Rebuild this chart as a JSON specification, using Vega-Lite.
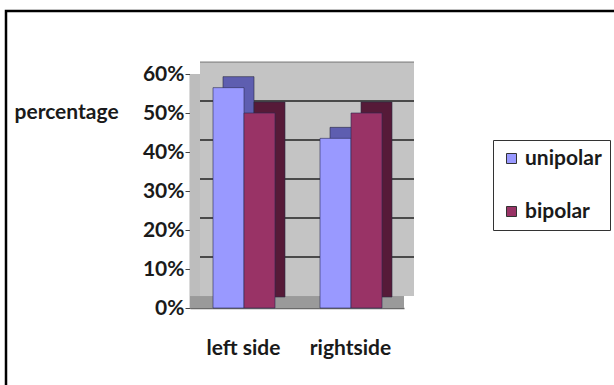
{
  "$schema": "https://vega.github.io/schema/vega-lite/v6.json",
  "width": 608,
  "height": 374,
  "autosize": {"type": "none"},
  "padding": {"left": 6, "top": 11, "right": 0, "bottom": 0},
  "background": "white",
  "config": {
    "view": {"stroke": "#000000", "strokeWidth": 2.5, "strokeDash": [608, 982, 374, 20], "fill": "white"},
    "font": "Lato"
  },
  "data": {
    "values": [
      {"side": "left side", "type": "unipolar", "pct": 0.565},
      {"side": "left side", "type": "bipolar", "pct": 0.5},
      {"side": "rightside", "type": "unipolar", "pct": 0.435},
      {"side": "rightside", "type": "bipolar", "pct": 0.5}
    ]
  },
  "resolve": {"scale": {"x": "independent", "y": "independent", "xOffset": "independent", "color": "independent"}},
  "layer": [
    {
      "mark": {"type": "bar", "color": "#bdbdbd"},
      "encoding": {
        "x": {"field": "side", "type": "nominal", "scale": {"domain": ["left side", "rightside"], "range": [184, 398], "paddingInner": 0, "paddingOuter": 0}, "axis": null},
        "y": {"datum": 0.6, "type": "quantitative", "scale": {"domain": [0, 0.6], "range": [297, 63]}, "axis": null},
        "y2": {"datum": 0}
      }
    },
    {
      "mark": {"type": "bar", "color": "#c4c4c4"},
      "encoding": {
        "x": {"field": "side", "type": "nominal", "scale": {"domain": ["left side", "rightside"], "range": [194, 408], "paddingInner": 0, "paddingOuter": 0}, "axis": null},
        "y": {"datum": 0.6, "type": "quantitative", "scale": {"domain": [0, 0.6], "range": [285, 51]}, "axis": null},
        "y2": {"datum": 0}
      }
    },
    {
      "data": {"values": [{"g": 0.1}, {"g": 0.2}, {"g": 0.3}, {"g": 0.4}, {"g": 0.5}, {"g": 0.6}]},
      "mark": {"type": "rule", "color": "#4a4a4a", "strokeWidth": 2},
      "encoding": {
        "x": {"datum": "left side", "type": "nominal", "bandPosition": 0, "scale": {"domain": ["left side", "rightside"], "range": [194, 408], "paddingInner": 0, "paddingOuter": 0}, "axis": null},
        "x2": {"datum": "rightside", "bandPosition": 1},
        "y": {"field": "g", "type": "quantitative", "scale": {"domain": [0, 0.6], "range": [285, 51]}, "axis": null},
        "opacity": {"condition": {"test": "datum.g > 0.55", "value": 0.35}, "value": 1}
      }
    },
    {
      "mark": {"type": "bar", "color": "#9a9a9a"},
      "encoding": {
        "x": {"field": "side", "type": "nominal", "scale": {"domain": ["left side", "rightside"], "range": [184, 398], "paddingInner": 0, "paddingOuter": 0}, "axis": null},
        "y": {"datum": 0.03, "type": "quantitative", "scale": {"domain": [0, 0.6], "range": [297, 63]}, "axis": null},
        "y2": {"datum": 0}
      }
    },
    {
      "mark": {"type": "bar", "stroke": "#2a2a40", "strokeWidth": 0.6},
      "encoding": {
        "x": {"field": "side", "type": "nominal", "scale": {"domain": ["left side", "rightside"], "range": [184, 398], "paddingInner": 0, "paddingOuter": 0}, "axis": null},
        "xOffset": {"field": "type", "type": "nominal", "scale": {"domain": ["unipolar", "bipolar"], "range": [33, 95], "paddingInner": 0, "paddingOuter": 0}},
        "y": {"field": "pct", "type": "quantitative", "scale": {"domain": [0, 0.6], "range": [286, 52]}, "axis": null},
        "y2": {"datum": 0},
        "color": {"field": "type", "type": "nominal", "scale": {"domain": ["unipolar", "bipolar"], "range": ["#5e5eb0", "#561a38"]}, "legend": null}
      }
    },
    {
      "mark": {"type": "bar", "stroke": "#2a2a50", "strokeWidth": 0.6},
      "encoding": {
        "x": {
          "field": "side", "type": "nominal",
          "scale": {"domain": ["left side", "rightside"], "range": [184, 398], "paddingInner": 0, "paddingOuter": 0},
          "axis": {"orient": "bottom", "offset": -77, "ticks": false, "domain": true, "domainColor": "#6a6a6a", "domainWidth": 1.5, "labelAngle": 0, "labelPadding": 29, "labelFont": "Lato", "labelFontSize": 21, "labelFontWeight": "bold", "labelColor": "#1a1a1a", "title": null}
        },
        "xOffset": {"field": "type", "type": "nominal", "scale": {"domain": ["unipolar", "bipolar"], "range": [23, 85], "paddingInner": 0, "paddingOuter": 0}},
        "y": {
          "field": "pct", "type": "quantitative",
          "scale": {"domain": [0, 0.6], "range": [297, 63]},
          "axis": {"values": [0, 0.1, 0.2, 0.3, 0.4, 0.5, 0.6], "format": ".0%", "offset": -184, "grid": false, "domainColor": "#6a6a6a", "domainWidth": 1.5, "tickColor": "#444444", "tickSize": 5, "labelPadding": 1, "labelFont": "Lato", "labelFontSize": 21, "labelFontWeight": "bold", "labelColor": "#1a1a1a", "title": "percentage", "titleAngle": 0, "titleX": -176, "titleY": 101, "titleAlign": "left", "titleBaseline": "middle", "titleFont": "Lato", "titleFontSize": 21, "titleFontWeight": "bold", "titleColor": "#1a1a1a"}
        },
        "y2": {"datum": 0},
        "color": {
          "field": "type", "type": "nominal",
          "scale": {"domain": ["unipolar", "bipolar"], "range": ["#9999ff", "#993366"]},
          "legend": {"orient": "none", "legendX": 487, "legendY": 129, "title": null, "strokeColor": "#333333", "fillColor": "white", "padding": 8, "symbolType": "square", "symbolSize": 100, "symbolStrokeColor": "#333333", "symbolStrokeWidth": 1, "labelFont": "Lato", "labelFontSize": 21, "labelFontWeight": "bold", "labelColor": "#1a1a1a", "labelOffset": 3, "rowPadding": 31}
        }
      }
    }
  ]
}
